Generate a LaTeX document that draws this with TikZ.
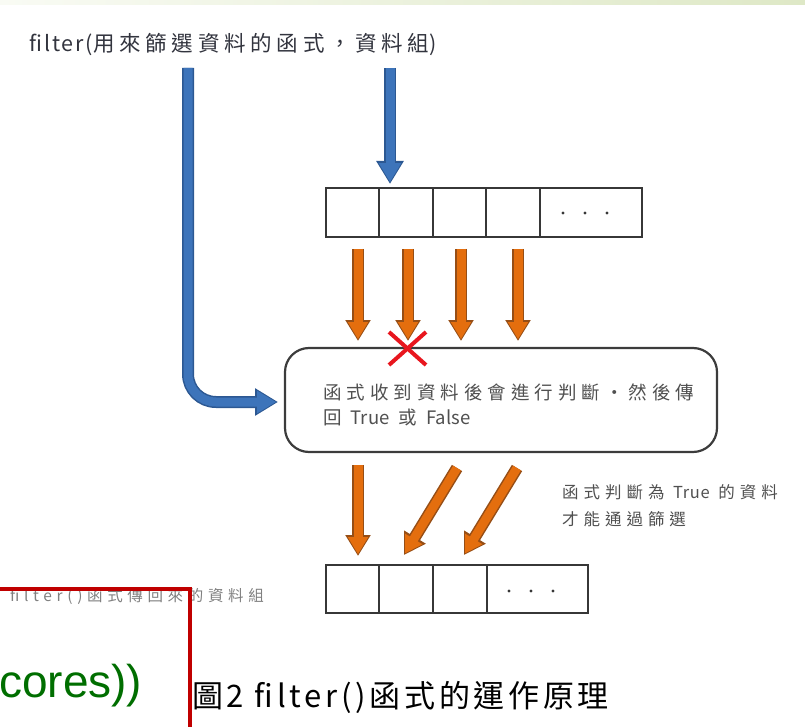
\documentclass[tikz,border=0pt]{standalone}
\usepackage{fontspec}
\setmainfont{Noto Sans CJK TC}
\newfontfamily\titlefont[LetterSpace=9]{Noto Sans CJK TC}
\newfontfamily\titlecjk[LetterSpace=22]{Noto Sans CJK TC}
\newfontfamily\boxfont[LetterSpace=27]{Noto Sans CJK TC}
\newfontfamily\notefont[LetterSpace=30]{Noto Sans CJK TC}
\newfontfamily\lblfont[LetterSpace=30]{Noto Sans CJK TC}
\newfontfamily\capfont[LetterSpace=12]{Noto Sans CJK TC}
\newfontfamily\codefont{Liberation Sans}
\usetikzlibrary{arrows.meta}
\definecolor{bfill}{RGB}{61,116,186}
\definecolor{bdark}{RGB}{44,88,146}
\definecolor{ofill}{RGB}{228,110,14}
\definecolor{odark}{RGB}{150,78,22}
\definecolor{cellline}{RGB}{55,55,55}
\definecolor{boxline}{RGB}{60,60,60}
\definecolor{txtgray}{RGB}{80,80,80}
\definecolor{titlecol}{RGB}{50,52,62}
\definecolor{xred}{RGB}{232,22,30}
\definecolor{redline}{RGB}{192,0,0}
\definecolor{codegreen}{RGB}{0,110,0}
\definecolor{barleft}{RGB}{249,251,244}
\definecolor{barright}{RGB}{222,232,198}
\tikzset{
  cell/.style={draw=cellline, line width=1.3pt, inner sep=0pt, minimum height=49pt},
  bluearrow/.style={line width=9pt, draw=bfill, shorten >=1.8pt,
     -{Triangle[width=21pt,length=19pt]},
     preaction={draw=bdark, line width=12pt, shorten >=0pt, -{Triangle[width=26pt,length=23pt]}}},
  orangearrow/.style={line width=9pt, draw=ofill, shorten >=1.8pt,
     -{Triangle[width=19pt,length=17pt]},
     preaction={draw=odark, line width=12pt, shorten >=0pt, -{Triangle[width=24pt,length=21pt]}}},
  dotmark/.style={fill=cellline, circle, inner sep=0pt, minimum size=3.2pt}
}
\begin{document}
\begin{tikzpicture}[x=1pt,y=-1pt]
\useasboundingbox (0,0) rectangle (805,727);
\shade[left color=barleft, right color=barright] (0,0) rectangle (805,5);

% title
\node[anchor=west, inner sep=0pt, text=titlecol] (title) at (29,44)
  {\titlefont\fontsize{21.5}{24}\selectfont filter(\titlecjk 用來篩選資料的函式，資料組\titlefont)};

% top array
\node[cell, minimum width=53pt] (t1) at (352.5,212.5) {};
\node[cell, minimum width=54pt] (t2) at (406,212.5) {};
\node[cell, minimum width=53pt] (t3) at (459.5,212.5) {};
\node[cell, minimum width=54pt] (t4) at (513,212.5) {};
\node[cell, minimum width=102pt] (t5) at (591,212.5) {};
\node[dotmark] (td1) at (563,213) {};
\node[dotmark] (td2) at (585,213) {};
\node[dotmark] (td3) at (607,213) {};

% function box
\node[draw=boxline, line width=2.2pt, rounded corners=24pt, fill=white,
      minimum width=432pt, minimum height=104pt, inner sep=0pt] (box) at (501,400) {};
\node[anchor=west, align=left, inner sep=0pt, text=txtgray,
      font={\boxfont\fontsize{18.5}{25}\selectfont}] (boxtext) at (323,405)
  {函式收到資料後會進行判斷‧然後傳\\
   回 {\addfontfeature{LetterSpace=0}True} 或 {\addfontfeature{LetterSpace=0}False}};

% bottom array
\node[cell, minimum width=53pt, minimum height=48pt] (b1) at (352.5,589) {};
\node[cell, minimum width=54pt, minimum height=48pt] (b2) at (406,589) {};
\node[cell, minimum width=54pt, minimum height=48pt] (b3) at (460,589) {};
\node[cell, minimum width=101pt, minimum height=48pt] (b4) at (537.5,589) {};
\node[dotmark] (bd1) at (509,591) {};
\node[dotmark] (bd2) at (531,591) {};
\node[dotmark] (bd3) at (553,591) {};

% side note
\node[anchor=west, align=left, inner sep=0pt, text=txtgray,
      font={\notefont\fontsize{16.5}{27}\selectfont}] (note) at (562,506)
  {函式判斷為 {\addfontfeature{LetterSpace=4}True} 的資料\\
   才能通過篩選};

% bottom label
\node[anchor=west, inner sep=0pt, text=gray] (lbl) at (10,596)
  {\lblfont\fontsize{15.5}{16}\selectfont filter()函式傳回來的資料組};

% blue arrows
\coordinate (bs1) at (188,68);
\coordinate (bs2) at (390,68);
\coordinate (be1) at (278,402);
\coordinate (be2) at (390,184);
\draw[bluearrow, rounded corners=28pt] (bs1) |- (be1);
\draw[bluearrow] (bs2) -- (be2);

% orange arrows into box
\coordinate (o1s) at (358,249); \coordinate (o1e) at (358,341);
\coordinate (o2s) at (408,249); \coordinate (o2e) at (408,341);
\coordinate (o3s) at (461,249); \coordinate (o3e) at (461,341);
\coordinate (o4s) at (518,249); \coordinate (o4e) at (518,341);
\draw[orangearrow] (o1s) -- (o1e);
\draw[orangearrow] (o2s) -- (o2e);
\draw[orangearrow] (o3s) -- (o3e);
\draw[orangearrow] (o4s) -- (o4e);

% red cross
\coordinate (xa) at (389,332); \coordinate (xb) at (426,365);
\coordinate (xc) at (426,332); \coordinate (xd) at (389,365);
\draw[xred, line width=4pt] (xa) -- (xb);
\draw[xred, line width=4pt] (xc) -- (xd);

% orange arrows out of box
\coordinate (p1s) at (358,465); \coordinate (p1e) at (358,556);
\coordinate (p2s) at (457,468); \coordinate (p2e) at (404,555);
\coordinate (p3s) at (517,468); \coordinate (p3e) at (464,555);
\draw[orangearrow] (p1s) -- (p1e);
\draw[orangearrow] (p2s) -- (p2e);
\draw[orangearrow] (p3s) -- (p3e);

% red frame fragment and code text
\coordinate (r0) at (0,589);
\coordinate (r1) at (190,589);
\coordinate (r2) at (190,727);
\draw[redline, line width=4pt] (r0) -- (r1) -- (r2);
\node[anchor=west, inner sep=0pt, text=codegreen] (code) at (-1,686)
  {\codefont\fontsize{46}{48}\selectfont cores))};

% caption
\node[anchor=west, inner sep=0pt, text=black] (cap) at (192,697)
  {\capfont\fontsize{31}{34}\selectfont 圖2 filter()函式的運作原理};
\end{tikzpicture}
\end{document}
